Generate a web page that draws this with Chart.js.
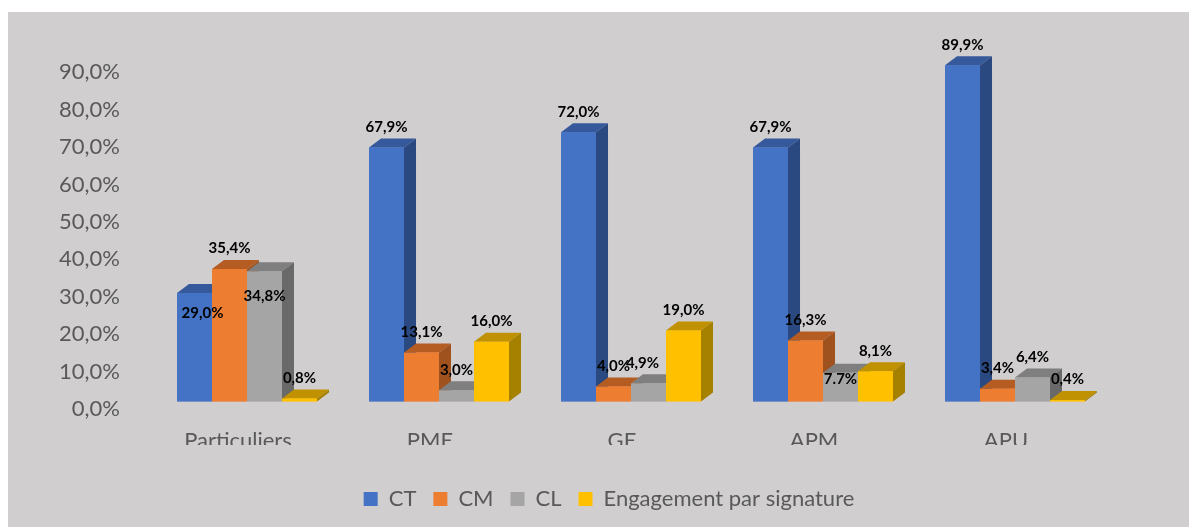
<!DOCTYPE html>
<html>
<head>
<meta charset="utf-8">
<title>Engagements</title>
<script src="https://cdn.jsdelivr.net/npm/chart.js@4/dist/chart.umd.min.js"></script>
<style>
    html, body { margin: 0; padding: 0; background: #fff; }
    #panel { position: absolute; left: 8px; top: 12px; right: 0; bottom: 0; background: #d0cece; }
    #box { position: absolute; left: 0; top: 0; width: 1189px; height: 527px; }
</style>
</head>
<body>
<div id="panel"></div>
<div id="box"><canvas id="myChart"></canvas></div>
<script>
var categories = ['Particuliers', 'PME', 'GE', 'APM', 'APU'];
var seriesNames = ['CT', 'CM', 'CL', 'Engagement par signature'];

var ctValues = [29.0, 67.9, 72.0, 67.9, 89.9];
var cmValues = [35.4, 13.1, 4.0, 16.3, 3.4];
var clValues = [34.8, 3.0, 4.9, 7.7, 6.4];
var epsValues = [0.8, 16.0, 19.0, 8.1, 0.4];

var ctLabels = ['29,0%', '67,9%', '72,0%', '67,9%', '89,9%'];
var cmLabels = ['35,4%', '13,1%', '4,0%', '16,3%', '3,4%'];
var clLabels = ['34,8%', '3,0%', '4,9%', '7.7%', '6,4%'];
var epsLabels = ['0,8%', '16,0%', '19,0%', '8,1%', '0,4%'];

var tickValues = [0, 10, 20, 30, 40, 50, 60, 70, 80, 90];

// front, top and side face of each series
var frontColors = ['#4472c4', '#ed7d31', '#a5a5a5', '#ffc000'];
var topColors = ['#36599c', '#b55c23', '#7f7f7f', '#c09100'];
var sideColors = ['#2a4980', '#a0521e', '#696969', '#a68100'];

var allLabels = [ctLabels, cmLabels, clLabels, epsLabels];
var allValues = [ctValues, cmValues, clValues, epsValues];

var textGrey = '#595959';
var depthX = 12;
var depthY = 9;

// labels that sit somewhere else than just above the bar: [series, category, dx, dy]
var labelMoves = [
    [0, 0, 8, 41],
    [2, 0, 0, 45],
    [2, 2, -6, 0],
    [2, 3, 0, 27]
];

var bars3d = {
    id: 'bars3d',
    afterDatasetsDraw: function(chart) {
        var ctx = chart.ctx;
        // chart.js paints the last dataset first, here it has to be left to right
        for (var s = 0; s < chart.data.datasets.length; s++) {
            chart.getDatasetMeta(s).data.forEach(function(bar) {
                var left = bar.x - bar.width / 2;
                var right = bar.x + bar.width / 2;

                ctx.fillStyle = topColors[s];
                ctx.beginPath();
                ctx.moveTo(left, bar.y);
                ctx.lineTo(left + depthX, bar.y - depthY);
                ctx.lineTo(right + depthX, bar.y - depthY);
                ctx.lineTo(right, bar.y);
                ctx.closePath();
                ctx.fill();

                ctx.fillStyle = sideColors[s];
                ctx.beginPath();
                ctx.moveTo(right, bar.y);
                ctx.lineTo(right + depthX, bar.y - depthY);
                ctx.lineTo(right + depthX, bar.base - depthY);
                ctx.lineTo(right, bar.base);
                ctx.closePath();
                ctx.fill();

                bar.draw(ctx);
            });
        }
    }
};

var valueLabels = {
    id: 'valueLabels',
    afterDraw: function(chart) {
        var ctx = chart.ctx;
        ctx.save();
        ctx.font = 'bold 15px Lato';
        ctx.fillStyle = '#000';
        ctx.textAlign = 'center';
        ctx.textBaseline = 'middle';
        allLabels.forEach(function(labels, s) {
            chart.getDatasetMeta(s).data.forEach(function(bar, i) {
                var dx = 0, dy = 0;
                labelMoves.forEach(function(m) {
                    if (m[0] === s && m[1] === i) {
                        dx = m[2];
                        dy = m[3];
                    }
                });
                ctx.fillText(labels[i], bar.x + dx, bar.y - 20.5 + dy);
            });
        });
        ctx.restore();
    }
};

// axis text is 8px under the front of the bars and the category names get cut off
var axisText = {
    id: 'axisText',
    afterDraw: function(chart) {
        var ctx = chart.ctx;
        var x = chart.scales.x;
        var y = chart.scales.y;
        ctx.save();
        ctx.fillStyle = textGrey;
        ctx.font = '22px Lato';
        ctx.textBaseline = 'middle';

        ctx.textAlign = 'right';
        tickValues.forEach(function(v) {
            ctx.fillText(v.toFixed(1).replace('.', ',') + '%', 120, y.getPixelForValue(v) + 7.5);
        });

        ctx.beginPath();
        ctx.rect(0, 0, chart.width, 445);
        ctx.clip();
        ctx.textAlign = 'center';
        categories.forEach(function(name, i) {
            ctx.fillText(name, x.getPixelForValue(i) - 9, 441);
        });
        ctx.restore();
    }
};

function makeDatasets() {
    var sets = [];
    seriesNames.forEach(function(name, s) {
        sets.push({
            label: name,
            data: allValues[s],
            backgroundColor: frontColors[s],
            barPercentage: 1,
            categoryPercentage: 0.729
        });
    });
    return sets;
}

var ctx = document.getElementById('myChart').getContext('2d');
var myChart = new Chart(ctx, {
    type: 'bar',
    data: {
        labels: categories,
        datasets: makeDatasets()
    },
    plugins: [bars3d, valueLabels, axisText],
    options: {
        responsive: true,
        maintainAspectRatio: false,
        animation: false,
        layout: {
            padding: { left: 107, right: 78, top: 27.5, bottom: 7 }
        },
        plugins: {
            tooltip: { enabled: false },
            legend: {
                position: 'bottom',
                onClick: null,
                labels: {
                    boxWidth: 14,
                    boxHeight: 14,
                    padding: 17,
                    color: textGrey,
                    font: { family: 'Lato', size: 22 }
                }
            }
        },
        scales: {
            x: {
                grid: { display: false },
                border: { display: false },
                ticks: { display: false },
                afterFit: function(scale) { scale.height = 69.5; }
            },
            y: {
                min: 0,
                max: 100,
                grid: { display: false },
                border: { display: false },
                ticks: { display: false, stepSize: 10 },
                afterFit: function(scale) { scale.width = 44; }
            }
        }
    }
});
</script>
</body>
</html>
